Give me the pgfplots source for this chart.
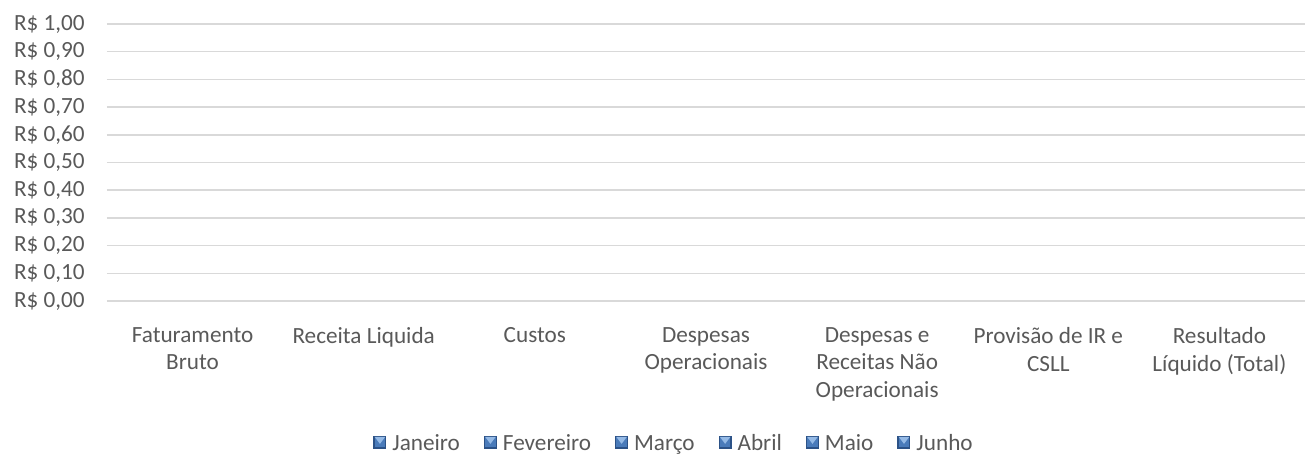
\documentclass[border=0pt]{standalone}
\usepackage{pgfplots}
\pgfplotsset{compat=1.18}
\usepackage{fontspec}
\setmainfont{Carlito}
\definecolor{txt}{HTML}{595959}
\definecolor{grid}{HTML}{D9D9D9}
\definecolor{icondark}{HTML}{2C5287}
\definecolor{iconmid}{HTML}{4A7BBA}
\definecolor{iconlight}{HTML}{95BAE6}
\hyphenpenalty=10000
\exhyphenpenalty=10000
\pgfplotsset{
  myicon/.style={legend image code/.code={
    \fill[icondark] (0pt,-3.75pt) rectangle (9.75pt,6pt);
    \fill[iconmid] (0.9pt,-2.85pt) rectangle (8.85pt,5.1pt);
    \fill[iconlight] (0.9pt,5.1pt) -- (8.85pt,5.1pt) -- (4.875pt,-0.15pt) -- cycle;
  }}
}
\begin{document}
\begin{tikzpicture}
\begin{axis}[
  at={(80.25pt,117pt)}, anchor=south west,
  scale only axis, width=898.5pt, height=207.75pt,
  ybar, bar width=10pt,
  xmin=-0.5, xmax=6.5, ymin=0, ymax=1,
  xtick={0,1,2,3,4,5,6},
  xticklabels={Faturamento Bruto, Receita Liquida, Custos, Despesas Operacionais, Despesas e Receitas Não Operacionais, Provisão de IR e CSLL, Resultado Líquido (Total)},
  ytick={0,0.1,0.2,0.3,0.4,0.5,0.6,0.7,0.8,0.9,1},
  yticklabels={{R\$ 0,00},{R\$ 0,10},{R\$ 0,20},{R\$ 0,30},{R\$ 0,40},{R\$ 0,50},{R\$ 0,60},{R\$ 0,70},{R\$ 0,80},{R\$ 0,90},{R\$ 1,00}},
  major tick length=0pt,
  axis x line*=bottom,
  axis y line*=left,
  y axis line style={draw=none},
  x axis line style={draw=grid, line width=1.6pt, -},
  ymajorgrids, major grid style={draw=grid, line width=1.15pt},
  ticklabel style={font=\fontsize{17.4}{20.6}\selectfont, text=txt},
  xticklabel style={anchor=north, inner sep=0pt, text width=124pt, align=flush center, yshift=-19.75pt},
  yticklabel style={anchor=east, inner sep=0pt, xshift=-16.5pt},
  legend columns=6,
  legend style={at={(axis description cs:0.4725,-0.515)}, anchor=center, draw=none, fill=none,
    inner sep=0pt, font=\fontsize{17.4}{20.6}\selectfont, text=txt,
    nodes={inner sep=0pt},
    /tikz/every odd column/.append style={column sep=4.5pt},
    /tikz/every even column/.append style={column sep=18pt}},
  clip=false,
]
\addplot[fill=none, draw=none, myicon] coordinates {(0,0) (1,0) (2,0) (3,0) (4,0) (5,0) (6,0)};
\addplot[fill=none, draw=none, myicon] coordinates {(0,0) (1,0) (2,0) (3,0) (4,0) (5,0) (6,0)};
\addplot[fill=none, draw=none, myicon] coordinates {(0,0) (1,0) (2,0) (3,0) (4,0) (5,0) (6,0)};
\addplot[fill=none, draw=none, myicon] coordinates {(0,0) (1,0) (2,0) (3,0) (4,0) (5,0) (6,0)};
\addplot[fill=none, draw=none, myicon] coordinates {(0,0) (1,0) (2,0) (3,0) (4,0) (5,0) (6,0)};
\addplot[fill=none, draw=none, myicon] coordinates {(0,0) (1,0) (2,0) (3,0) (4,0) (5,0) (6,0)};
\legend{Janeiro, Fevereiro, Março, Abril, Maio, Junho}
\end{axis}
\pgfresetboundingbox
\useasboundingbox (0,0) rectangle (980.25pt,342.75pt);
\end{tikzpicture}
\end{document}
